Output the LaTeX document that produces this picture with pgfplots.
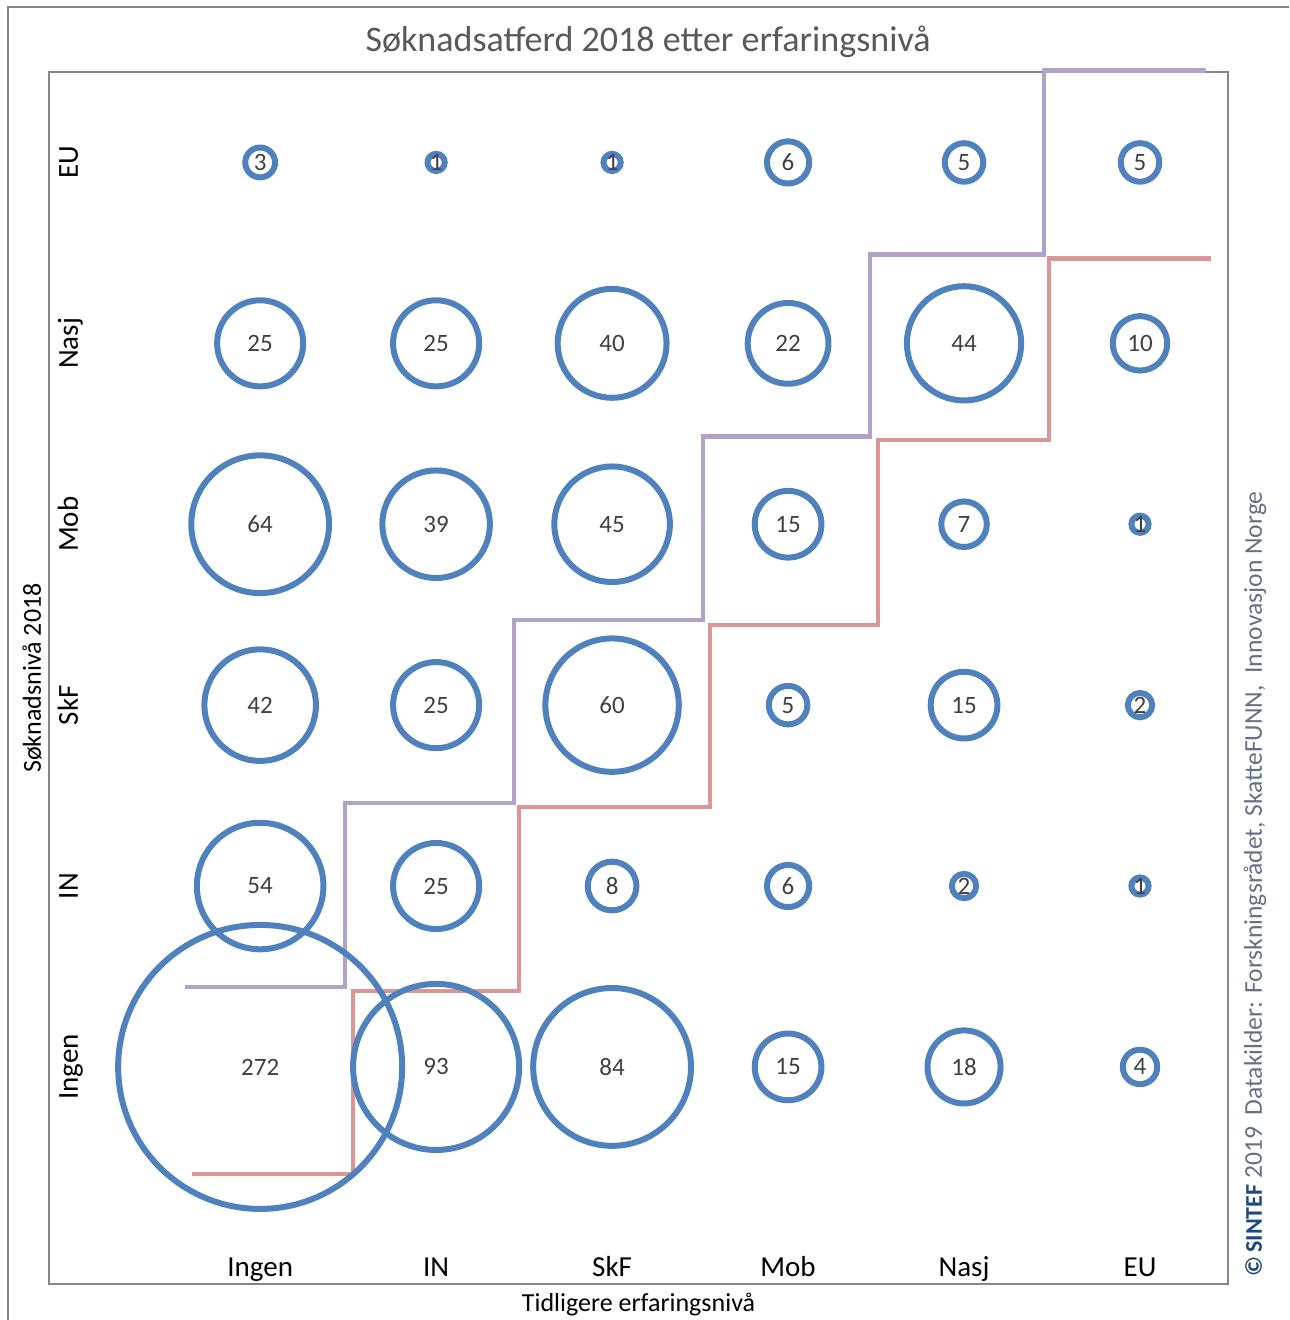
\documentclass[border=0pt]{standalone}
\usepackage{pgfplots}
\usepackage{pgfplotstable}
\pgfplotsset{compat=1.18}
\usepackage{fontspec}
\setmainfont{Carlito}
\definecolor{bub}{RGB}{79,129,189}
\definecolor{lila}{RGB}{179,162,199}
\definecolor{rosa}{RGB}{217,150,148}
\definecolor{axgray}{RGB}{134,134,134}
\definecolor{txt}{RGB}{64,64,64}
\definecolor{titlegray}{RGB}{89,89,89}
\definecolor{srcgray}{RGB}{100,112,135}
\definecolor{sintef}{RGB}{31,73,125}

% x = tidligere nivå, y = søknadsnivå 2018 (1=Ingen ... 6=EU)
\pgfplotstableread{
x y v
1 1 272
2 1 93
3 1 84
4 1 15
5 1 18
6 1 4
1 2 54
2 2 25
3 2 8
4 2 6
5 2 2
6 2 1
1 3 42
2 3 25
3 3 60
4 3 5
5 3 15
6 3 2
1 4 64
2 4 39
3 4 45
4 4 15
5 4 7
6 4 1
1 5 25
2 5 25
3 5 40
4 5 22
5 5 44
6 5 10
1 6 3
2 6 1
3 6 1
4 6 6
5 6 5
6 6 5
}\bobler

\begin{document}
\begin{tikzpicture}
\useasboundingbox (-24.5pt,-18pt) rectangle (620pt,642pt);
\draw[axgray, line width=1pt] (-20.5pt,-18pt) -- (-20.5pt,638.5pt) -- (620pt,638.5pt);
\begin{axis}[
  scale only axis, width=589.5pt, height=606pt,
  xmin=-0.2, xmax=6.5, ymin=-0.2, ymax=6.5,
  axis line style={axgray, line width=1pt},
  clip=false,
  /pgf/number format/assume math mode=true,
  xtick={1,...,6}, ytick={1,...,6},
  xticklabels={Ingen,IN,SkF,Mob,Nasj,EU},
  yticklabels={Ingen,IN,SkF,Mob,Nasj,EU},
  major tick length=0pt,
  tick label style={font=\fontsize{14.5}{16}\selectfont, text=black},
  xticklabel style={anchor=base, yshift=3.5pt},
  yticklabel style={xshift=14.5pt, rotate=90, anchor=base},
  xlabel={Tidligere erfaringsnivå},
  ylabel={Søknadsnivå 2018},
  label style={font=\fontsize{13}{15}\selectfont, text=black},
  xlabel style={at={(axis description cs:0.5,-0.0173)}, anchor=center},
  ylabel style={at={(axis description cs:-0.0144,0.5)}, anchor=center},
]
% trappelinjer
\addplot[lila, line width=2.2pt] coordinates {(0.574,1.442) (1.483,1.442) (1.483,2.459) (2.443,2.459) (2.443,3.470) (3.517,3.470) (3.517,4.486) (4.466,4.486) (4.466,5.492) (5.455,5.492) (5.455,6.508) (6.375,6.508)};
\addplot[rosa, line width=2.2pt] coordinates {(0.614,0.409) (1.528,0.409) (1.528,1.420) (2.472,1.420) (2.472,2.436) (3.557,2.436) (3.557,3.442) (4.511,3.442) (4.511,4.464) (5.483,4.464) (5.483,5.470) (6.403,5.470)};
% bobler, areal ~ antall
\addplot[scatter, only marks, mark=o, bub,
  mark options={line width=3pt, draw=bub},
  scatter/use mapped color={draw=bub},
  visualization depends on={4.305*sqrt(\thisrow{v}) \as \rad},
  scatter/@pre marker code/.append style={/tikz/mark size=\rad},
] table {\bobler};
% tall i boblene
\addplot[draw=none, mark=none, point meta=explicit,
  nodes near coords, nodes near coords align=center,
  every node near coord/.append style={anchor=center, text=txt, font=\fontsize{12.5}{14}\selectfont},
] table[meta=v] {\bobler};
\end{axis}
\node[font=\fontsize{18}{21}\selectfont, text=titlegray] at (299.5pt,621pt) {Søknadsatferd 2018 etter erfaringsnivå};
\node[rotate=90, text=srcgray, font=\fontsize{12.8}{14}\selectfont] at (603pt,200pt)
  {{\color{sintef}\large\textbf{\textcopyright}\,\textbf{SINTEF}} 2019~ Datakilder: Forskningsrådet, SkatteFUNN,~ Innovasjon Norge};
\end{tikzpicture}
\end{document}
